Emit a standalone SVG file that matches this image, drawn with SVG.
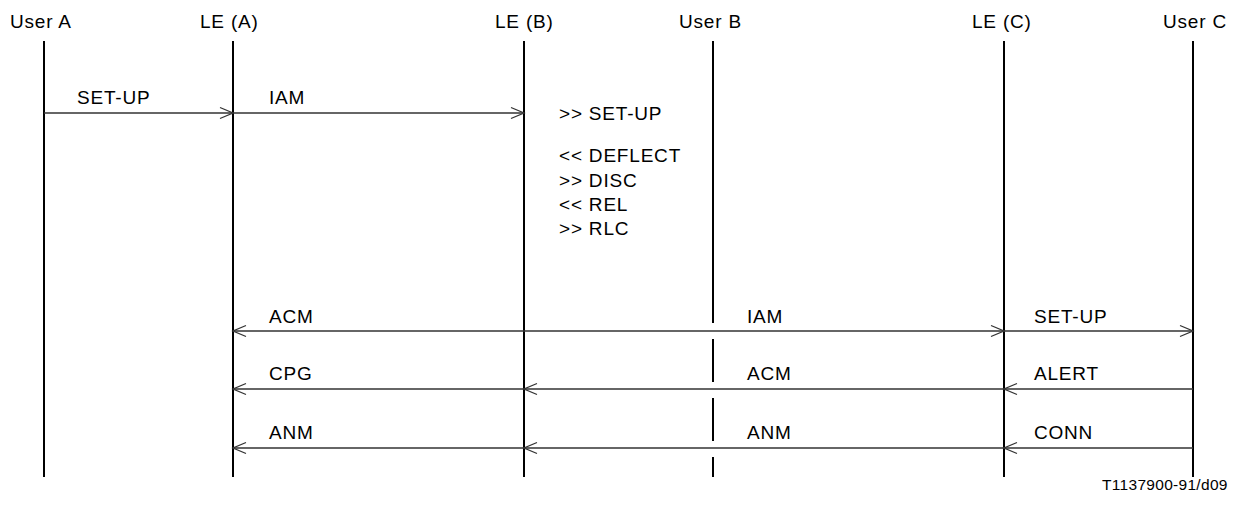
<svg xmlns="http://www.w3.org/2000/svg" width="1242" height="505" viewBox="0 0 1242 505">
<style>
text{font-family:"Liberation Sans",Arial,sans-serif;font-size:19px;fill:#000;letter-spacing:0.8px}
.life{stroke:#000;stroke-width:2;fill:none}
.msg{stroke:#333;stroke-width:1.5;fill:none;marker-end:url(#ah)}
.ref{font-size:15.5px;letter-spacing:0.3px}
</style>
<defs>
<marker id="ah" markerUnits="userSpaceOnUse" viewBox="-14 -7 16 14" markerWidth="16" markerHeight="14" refX="0" refY="0" orient="auto">
<path d="M -13 -5.5 L 0 0 L -13 5.5" fill="none" stroke="#333" stroke-width="1.3"/>
</marker>
</defs>
<rect width="1242" height="505" fill="#fff"/>
<g id="userA"><text x="10" y="28">User A</text><line class="life" x1="44" y1="41" x2="44" y2="477"/></g>
<g id="leA"><text x="200" y="28">LE (A)</text><line class="life" x1="233" y1="41" x2="233" y2="477"/></g>
<g id="leB"><text x="495" y="28">LE (B)</text><line class="life" x1="524" y1="41" x2="524" y2="477"/></g>
<g id="userB"><text x="679" y="28">User B</text><path class="life" d="M713 41V323M713 339V382M713 398V441M713 457V477"/></g>
<g id="leC"><text x="972" y="28">LE (C)</text><line class="life" x1="1004" y1="41" x2="1004" y2="477"/></g>
<g id="userC"><text x="1163" y="28">User C</text><line class="life" x1="1193" y1="41" x2="1193" y2="477"/></g>
<g id="connectors">
<line class="msg" x1="44" y1="113" x2="233" y2="113"/>
<line class="msg" x1="233" y1="113" x2="524" y2="113"/>
<line class="msg" x1="524" y1="331" x2="233" y2="331"/>
<line class="msg" x1="524" y1="331" x2="1004" y2="331"/>
<line class="msg" x1="1004" y1="331" x2="1193" y2="331"/>
<line class="msg" x1="1193" y1="389" x2="1004" y2="389"/>
<line class="msg" x1="1004" y1="389" x2="524" y2="389"/>
<line class="msg" x1="524" y1="389" x2="233" y2="389"/>
<line class="msg" x1="1193" y1="448" x2="1004" y2="448"/>
<line class="msg" x1="1004" y1="448" x2="524" y2="448"/>
<line class="msg" x1="524" y1="448" x2="233" y2="448"/>
</g>
<g id="labels">
<text x="77" y="104">SET-UP</text>
<text x="269" y="104">IAM</text>
<text x="559" y="120">&gt;&gt; SET-UP</text>
<text x="559" y="162">&lt;&lt; DEFLECT</text>
<text x="559" y="187">&gt;&gt; DISC</text>
<text x="559" y="211">&lt;&lt; REL</text>
<text x="559" y="234.5">&gt;&gt; RLC</text>
<text x="269" y="323">ACM</text>
<text x="747" y="323">IAM</text>
<text x="1034" y="323">SET-UP</text>
<text x="269" y="380">CPG</text>
<text x="747" y="380">ACM</text>
<text x="1034" y="380">ALERT</text>
<text x="269" y="439">ANM</text>
<text x="747" y="439">ANM</text>
<text x="1034" y="439">CONN</text>
<text class="ref" x="1102" y="490">T1137900-91/d09</text>
</g>
</svg>
